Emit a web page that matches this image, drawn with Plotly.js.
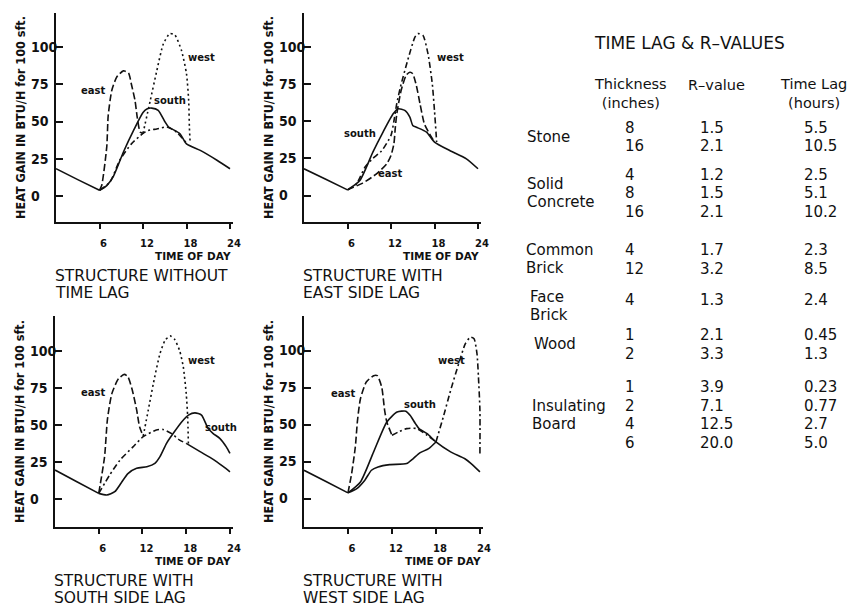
<!DOCTYPE html>
<html><head><meta charset="utf-8">
<script src="https://cdn.plot.ly/plotly-3.0.1.min.js"></script>
<style>html,body{margin:0;padding:0;background:#fff}#chart{width:859px;height:608px}</style>
</head><body><div id="chart"></div>
<script>
// ================= DATA =================
const xTickVals = [6, 12, 18, 24];
const xTickText = ['6', '12', '18', '24'];
const yTickVals = [0, 25, 50, 75, 100];
const yTickText = ['0', '25', '50', '75', '100'];
const yTitle = 'HEAT GAIN IN BTU/H for 100 sft.';
const xTitle = 'TIME OF DAY';
const panelTitles = [['STRUCTURE WITHOUT', 'TIME LAG'], ['STRUCTURE WITH', 'EAST SIDE LAG'],
                     ['STRUCTURE WITH', 'SOUTH SIDE LAG'], ['STRUCTURE WITH', 'WEST SIDE LAG']];

// Panel 1: structure without time lag
const p1NightX = [0, 3, 6];
const p1NightY = [18.3, 11, 3.8];
const p1SouthX = [6, 7, 7.9, 9.3, 10.7, 12, 12.6, 13.2, 14.1, 15, 15.5, 17.1, 18, 19.9, 22.2, 24];
const p1SouthY = [3.8, 7, 13, 29.5, 44, 56, 58.5, 59, 57.5, 50, 46.5, 41.8, 35, 30.6, 24, 18.3];
const p1ShadeX = [6, 7.45, 8.8, 10.4, 12, 12.7, 13.9, 15.3, 16.6, 18];
const p1ShadeY = [3.8, 9.4, 24, 35, 42, 44, 45, 46.3, 43, 35.5];
const p1EastX = [6, 6.3, 7, 7.2, 7.7, 8.4, 9.3, 10, 10.4, 10.9, 11.2, 11.6, 12];
const p1EastY = [3.8, 7, 33, 54, 71, 80, 84, 82.5, 75, 64, 53, 43, 42];
const p1WestX = [12, 13, 13.9, 14.8, 15.7, 16.4, 17.3, 18, 18.3, 18.4, 18.5];
const p1WestY = [42, 64, 84, 102, 109, 108, 97.8, 82, 64, 46, 36];

// Panel 2: east side lag
const p2NightX = [0, 3, 6];
const p2NightY = [18, 11, 3.8];
const p2SouthX = [6, 7.7, 9.5, 10.9, 12.3, 13, 13.9, 14.6, 15, 15.5, 16.9, 18, 20.1, 22.4, 24];
const p2SouthY = [3.8, 10.1, 29.2, 42.7, 55, 58.4, 57.3, 52.8, 47.2, 46, 42.7, 36, 30.3, 24.7, 18];
const p2WestX = [6, 7.2, 8.4, 9.5, 10.7, 12, 12.4, 12.8, 13.3, 14.3, 15.3, 15.7, 16.4, 17.1, 17.7, 18, 18.3];
const p2WestY = [3.8, 7.5, 19, 25, 30, 40.5, 50, 62, 73, 91, 106.7, 109, 107.9, 95.5, 75, 57, 36];
const p2EastX = [6, 6.3, 8.1, 10, 11.4, 12, 12.4, 12.6, 12.8, 13.4, 14.1, 14.6, 15, 15.5, 16, 16.6, 17.3, 18];
const p2EastY = [3.8, 4.5, 8.3, 14.6, 21.3, 27, 34.8, 46, 55, 70.8, 81, 83, 82, 74, 61.8, 48.3, 41.6, 36];

// Panel 3: south side lag
const p3NightX = [0, 3, 6];
const p3NightY = [19.4, 11.5, 3.6];
const p3SouthX = [6, 7.1, 8.2, 9.1, 10, 11.2, 12.6, 13.7, 14.4, 15.3, 16.2, 17.4, 18.3, 19.2, 20.1, 21, 21.7, 22.6, 23.5, 24];
const p3SouthY = [3.6, 2.5, 4.7, 10.8, 17, 20.5, 21.6, 23.9, 28.4, 37.4, 44, 52, 56.5, 58, 56.5, 47.5, 44, 40.8, 35, 30.6];
const p3ShadeX = [6, 7.5, 8.9, 10.7, 12.1, 13.9, 14.8, 16, 17.1, 18];
const p3ShadeY = [3.6, 16, 26, 35, 41.9, 46.4, 46.8, 44, 39.6, 37.4];
const p3BaseX = [18, 19.9, 21.7, 23.1, 24];
const p3BaseY = [37.4, 31.8, 26.6, 21.6, 18.2];
const p3EastX = [6, 6.8, 7.2, 7.8, 8.7, 9.5, 10, 10.6, 11.2, 11.6, 12.1];
const p3EastY = [3.6, 28.4, 54, 71, 81, 84, 82.4, 73.4, 60, 48.6, 42.3];
const p3WestX = [12.1, 12.8, 13.5, 14.4, 15.1, 15.8, 16.4, 17.1, 17.6, 18, 18.2, 18.3];
const p3WestY = [42.3, 60, 78, 98, 107, 110, 107.7, 100, 89, 71, 55.4, 36];

// Panel 4: west side lag
const p4NightX = [0, 3, 6];
const p4NightY = [19.1, 11.5, 3.8];
const p4SouthX = [6, 7.7, 9.5, 11.3, 12.7, 13.9, 14.5, 15.2, 15.7, 16.8, 18, 20, 21.9, 22.8, 24];
const p4SouthY = [3.8, 11.2, 31.5, 51.7, 58.4, 59, 56, 50.6, 47.2, 43.8, 38.2, 31.5, 27, 23.6, 18];
const p4EastX = [6, 6.5, 7, 7.3, 7.7, 8.5, 9.5, 10, 10.6, 11, 11.3, 12];
const p4EastY = [3.8, 16.9, 34.8, 52.8, 67.4, 78.7, 83, 83, 75.3, 59.6, 51.7, 42.7];
const p4ShadeX = [12, 12.9, 14, 15.4, 16.8, 18];
const p4ShadeY = [42.7, 45, 47.2, 47.2, 42.7, 38.2];
const p4WestLowX = [6, 7.2, 8.3, 9.2, 10.1, 11.7, 14, 14.9, 15.8, 17, 18];
const p4WestLowY = [3.8, 6.7, 12.4, 19.1, 21.3, 22.9, 23.6, 27, 30.8, 33.7, 38.2];
const p4WestHighX = [18, 19, 20, 21.1, 22, 22.7, 23.2, 23.6, 23.8, 24, 24];
const p4WestHighY = [38.2, 55, 73, 91, 104.5, 109, 107.9, 97.8, 82, 59.6, 30.3];

// curve labels
const labelText = ['east', 'west', 'south'];
const p1LabelX = [5.15, 20.1, 15.7];  const p1LabelY = [71, 93, 64];
const p2LabelX = [11.8, 20.2, 7.7];   const p2LabelY = [14.6, 93, 41.6];
const p3LabelX = [5.2, 20.1, 22.8];   const p3LabelY = [71.6, 93.7, 48];
const p4LabelX = [5.3, 20.1, 15.8];   const p4LabelY = [71.2, 93, 63.6];

// table
const tableTitle = 'TIME LAG & R\u2013VALUES';
const colHeads = [['Thickness', '(inches)'], ['R\u2013value'], ['Time Lag', '(hours)']];
const materials = [['Stone'], ['Solid', 'Concrete'], ['Common', 'Brick'], ['Face', 'Brick'], ['Wood'], ['Insulating', 'Board']];
const thickness = [['8', '16'], ['4', '8', '16'], ['4', '12'], ['4'], ['1', '2'], ['1', '2', '4', '6']];
const rValues   = [['1.5', '2.1'], ['1.2', '1.5', '2.1'], ['1.7', '3.2'], ['1.3'], ['2.1', '3.3'], ['3.9', '7.1', '12.5', '20.0']];
const timeLag   = [['5.5', '10.5'], ['2.5', '5.1', '10.2'], ['2.3', '8.5'], ['2.4'], ['0.45', '1.3'], ['0.23', '0.77', '2.7', '5.0']];

// ================= LAYOUT / STYLE =================
const W = 859, H = 608;
const fx = p => p / W, fy = p => 1 - p / H;
const INK = '#111';
const NARROW = '"Liberation Sans Narrow", "DejaVu Sans Condensed", "Arial Narrow", sans-serif';
const SANS = '"DejaVu Sans", "Liberation Sans", sans-serif';

const geo = [
  {left: 56, right: 233, top: 13, bottom: 222, x0: 56, pxh: 7.25, y0: 196, pxu: 1.49},
  {left: 304, right: 481, top: 13, bottom: 222, x0: 304, pxh: 7.25, y0: 195.5, pxu: 1.485},
  {left: 55, right: 233, top: 316, bottom: 527, x0: 55, pxh: 7.29, y0: 498.7, pxu: 1.48},
  {left: 304, right: 483, top: 316, bottom: 527, x0: 304, pxh: 7.33, y0: 498.5, pxu: 1.48}
];

const dashes = {solid: 'solid', east: '7px,3px', west: '2px,3px', shade: '6px,3px,2px,3px'};
const panels = [
  {series: [[p1NightX, p1NightY, 'solid'], [p1ShadeX, p1ShadeY, 'shade'], [p1SouthX, p1SouthY, 'solid'],
            [p1EastX, p1EastY, 'east'], [p1WestX, p1WestY, 'west']], lx: p1LabelX, ly: p1LabelY},
  {series: [[p2NightX, p2NightY, 'solid'], [p2SouthX, p2SouthY, 'solid'], [p2WestX, p2WestY, 'shade'],
            [p2EastX, p2EastY, 'east']], lx: p2LabelX, ly: p2LabelY},
  {series: [[p3NightX, p3NightY, 'solid'], [p3ShadeX, p3ShadeY, 'shade'], [p3BaseX, p3BaseY, 'solid'],
            [p3SouthX, p3SouthY, 'solid'], [p3EastX, p3EastY, 'east'], [p3WestX, p3WestY, 'west']], lx: p3LabelX, ly: p3LabelY},
  {series: [[p4NightX, p4NightY, 'solid'], [p4SouthX, p4SouthY, 'solid'], [p4EastX, p4EastY, 'east'],
            [p4ShadeX, p4ShadeY, 'shade'], [p4WestLowX, p4WestLowY, 'solid'], [p4WestHighX, p4WestHighY, 'shade']], lx: p4LabelX, ly: p4LabelY}
];

const pad = ['\u2007\u2007', '\u2007', '\u2007', '\u2007', ''];
const traces = [];
const annotations = [];
const layout = {
  width: W, height: H, margin: {l: 0, r: 0, t: 0, b: 0},
  paper_bgcolor: '#fff', plot_bgcolor: '#fff', showlegend: false,
  font: {family: SANS, color: INK}
};

panels.forEach((p, i) => {
  const g = geo[i];
  const sx = i === 0 ? '' : String(i + 1);
  p.series.forEach(([xs, ys, kind]) => {
    traces.push({
      type: 'scatter', mode: 'lines', x: xs, y: ys, xaxis: 'x' + sx, yaxis: 'y' + sx,
      line: {color: INK, width: 1.6, dash: dashes[kind], shape: 'spline', smoothing: 0.6},
      hoverinfo: 'skip'
    });
  });
  layout['xaxis' + sx] = {
    domain: [fx(g.left), fx(g.right)], range: [(g.left - g.x0) / g.pxh, (g.right - g.x0) / g.pxh],
    anchor: 'y' + sx, showline: true, linecolor: INK, linewidth: 2, ticks: 'outside', ticklen: 5,
    tickwidth: 2, tickcolor: INK, tickmode: 'array', tickvals: xTickVals, ticktext: xTickText,
    tickfont: {family: SANS, size: 10, weight: 'bold', color: INK}, ticklabelshift: 4, ticklabelstandoff: 6,
    showgrid: false, zeroline: false, fixedrange: true
  };
  layout['yaxis' + sx] = {
    domain: [fy(g.bottom), fy(g.top)], range: [(g.y0 - g.bottom) / g.pxu, (g.y0 - g.top) / g.pxu],
    anchor: 'x' + sx, showline: true, linecolor: INK, linewidth: 2, ticks: 'inside', ticklen: 7,
    tickwidth: 2, tickcolor: INK, tickmode: 'array', tickvals: yTickVals,
    ticktext: yTickText.map((t, k) => t + pad[k]),
    tickfont: {family: NARROW, size: 14, weight: 'bold', color: INK}, ticklabelstandoff: -6,
    showgrid: false, zeroline: false, fixedrange: true,
    title: {text: yTitle, font: {family: NARROW, size: 12.5, weight: 'bold', color: INK}, standoff: 3}
  };
  // curve labels
  labelText.forEach((t, k) => annotations.push({
    xref: 'x' + sx, yref: 'y' + sx, x: p.lx[k], y: p.ly[k], text: t, showarrow: false,
    font: {family: SANS, size: 10, weight: 'bold', color: INK}
  }));
  // TIME OF DAY
  annotations.push({xref: 'x' + sx + ' domain', x: 1, xanchor: 'right', yref: 'paper', y: fy(g.bottom + 34),
    yanchor: 'middle', text: xTitle, showarrow: false, font: {family: SANS, size: 10.5, weight: 'bold', color: INK}});
  // subtitles
  panelTitles[i].forEach((t, k) => annotations.push({xref: 'x' + sx + ' domain', x: 0, xanchor: 'left', xshift: -3,
    yref: 'paper', y: fy(g.bottom + 54 + 17 * k), yanchor: 'middle', text: t, showarrow: false,
    font: {family: SANS, size: 15.5, color: INK}}));
});

// ---- table (text annotations) ----
const tfont = {family: SANS, size: 15, color: INK};
const tab = {titleX: 689, titleY: 43, headY: 94, headX: [630, 716, 813],
  matX: [525, 525, 524, 528, 532, 530], colX: [623, 698, 802],
  groupY: [128, 175, 250, 300, 335, 387], rowGap: 18.5, lineGap: 18, labelShift: [0, 0, 0, 6, 0, 0]};
annotations.push({xref: 'paper', yref: 'paper', x: fx(tab.titleX), y: fy(tab.titleY), xanchor: 'center', yanchor: 'middle',
  text: tableTitle, showarrow: false, font: {family: SANS, size: 17, color: INK}});
colHeads.forEach((lines, c) => annotations.push({xref: 'paper', yref: 'paper',
  x: fx(tab.headX[c]), y: fy(lines.length > 1 ? tab.headY : tab.headY - 9), xanchor: 'center', yanchor: 'middle',
  text: lines.join('<br>'), showarrow: false, font: {family: SANS, size: 14.5, color: INK}}));
materials.forEach((lines, gi) => {
  const n = thickness[gi].length;
  const yc = tab.groupY[gi] + (n - 1) * tab.rowGap / 2 + tab.labelShift[gi];
  lines.forEach((t, k) => annotations.push({xref: 'paper', yref: 'paper', x: fx(tab.matX[gi]),
    y: fy(yc + (k - (lines.length - 1) / 2) * tab.lineGap), xanchor: 'left', yanchor: 'middle', text: t, showarrow: false, font: tfont}));
  [thickness, rValues, timeLag].forEach((col, c) => col[gi].forEach((t, r) => annotations.push({xref: 'paper', yref: 'paper',
    x: fx(tab.colX[c]), y: fy(tab.groupY[gi] + r * tab.rowGap), xanchor: 'left', yanchor: 'middle', text: t, showarrow: false, font: tfont})));
});

layout.annotations = annotations;
Plotly.newPlot('chart', traces, layout, {staticPlot: true, displayModeBar: false});
</script></body></html>
